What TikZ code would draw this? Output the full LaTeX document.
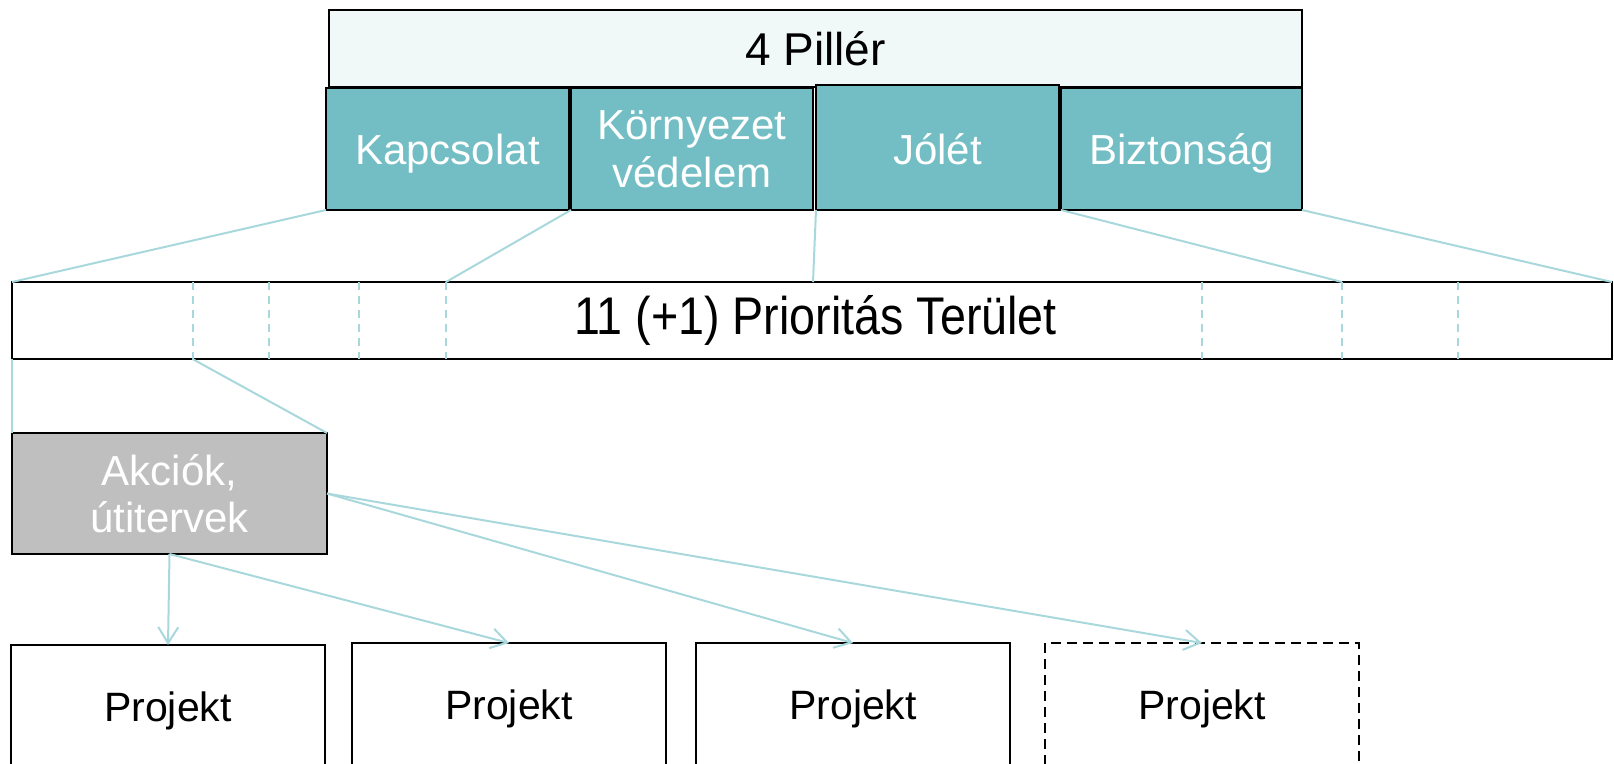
\documentclass[tikz,border=0pt]{standalone}
\usepackage{fontspec}
\setmainfont{Liberation Sans}
\usepackage{graphicx}
\usetikzlibrary{arrows.meta}
\definecolor{tealfill}{RGB}{114,190,196}
\definecolor{connc}{RGB}{168,216,220}
\definecolor{topfill}{RGB}{240,248,248}
\definecolor{grayfill}{RGB}{191,191,191}
\tikzset{
  base/.style={draw=black, line width=1.8pt, inner sep=0pt, outer sep=0pt, align=center},
  pillbox/.style={base, fill=topfill, font=\fontsize{46}{52}\selectfont, text height=33pt, text depth=0pt},
  tealbox/.style={base, fill=tealfill, text=white, font=\fontsize{42}{47.5}\selectfont, text height=30pt, text depth=0pt},
  tealtwo/.style={base, fill=tealfill, text=white, font=\fontsize{42}{47.5}\selectfont, text depth=0pt},
  barbox/.style={base, fill=white},
  akcbox/.style={base, fill=grayfill, text=white, font=\fontsize{42}{46.5}\selectfont, text depth=0pt},
  projbox/.style={base, fill=white, font=\fontsize{41}{46}\selectfont, text height=29.4pt, text depth=0pt},
  conn/.style={draw=connc, line width=2pt},
  arr/.style={conn, -{Straight Barb[length=16pt,width=20pt,line width=2pt]}},
  sepline/.style={draw=connc, line width=2pt, dash pattern=on 8pt off 6pt},
}
\begin{document}
\begin{tikzpicture}[x=1pt,y=-1pt]
\useasboundingbox (0,0) rectangle (1614,763);
\clip (0,0) rectangle (1614,763);

% pillars
\node[pillbox, minimum width=973, minimum height=77] (pill) at (815.5,48.5) {4 Pillér};
\node[tealbox, minimum width=243, minimum height=122] (kap) at (447.5,149) {Kapcsolat};
\node[tealtwo, minimum width=242, minimum height=122] (kor) at (692,149) {Környezet\\védelem};
\node[tealbox, text height=33pt, minimum width=243, minimum height=125] (jol) at (937.5,147.5) {Jólét};
\node[tealbox, minimum width=241, minimum height=122] (biz) at (1181.5,149) {Biztonság};

% priority bar
\node[barbox, minimum width=1600, minimum height=77] (bar) at (812,320.5) {};
\node[inner sep=0pt] (bartext) at (815.5,320.5) {\scalebox{0.88}[1]{\fontsize{53}{60}\selectfont 11 (+1) Prioritás Terület}};
\foreach \i/\x in {1/192.5,2/268.7,3/359.3,4/446,5/1201.5,6/1342,7/1458}{
  \coordinate (d\i t) at (\x,282);
  \coordinate (d\i b) at (\x,359);
  \draw[sepline] (d\i t) -- (d\i b);
}
\coordinate (jt) at (813,282);

% actions
\node[akcbox, minimum width=315, minimum height=121] (akc) at (169.5,493.5) {Akciók,\\útitervek};

% projects
\node[projbox, minimum width=314, minimum height=124] (p1) at (168,707) {Projekt};
\node[projbox, minimum width=314, minimum height=124] (p2) at (509,705) {Projekt};
\node[projbox, minimum width=314, minimum height=124] (p3) at (853,705) {Projekt};
\node[projbox, dash pattern=on 10pt off 6pt, minimum width=314, minimum height=124] (p4) at (1202,705) {Projekt};

% connectors
\draw[conn] (kap.south west) -- (bar.north west);
\draw[conn] (kor.south west) -- (d4t);
\draw[conn] (jol.south west) -- (jt);
\draw[conn] (biz.south west) -- (d6t);
\draw[conn] (biz.south east) -- (bar.north east);
\draw[conn] (bar.south west) -- (akc.north west);
\draw[conn] (d1b) -- (akc.north east);
\draw[arr] (akc.south) -- (p1.north);
\draw[arr] (akc.south) -- (p2.north);
\draw[arr] (akc.east) -- (p3.north);
\draw[arr] (akc.east) -- (p4.north);
\end{tikzpicture}
\end{document}
